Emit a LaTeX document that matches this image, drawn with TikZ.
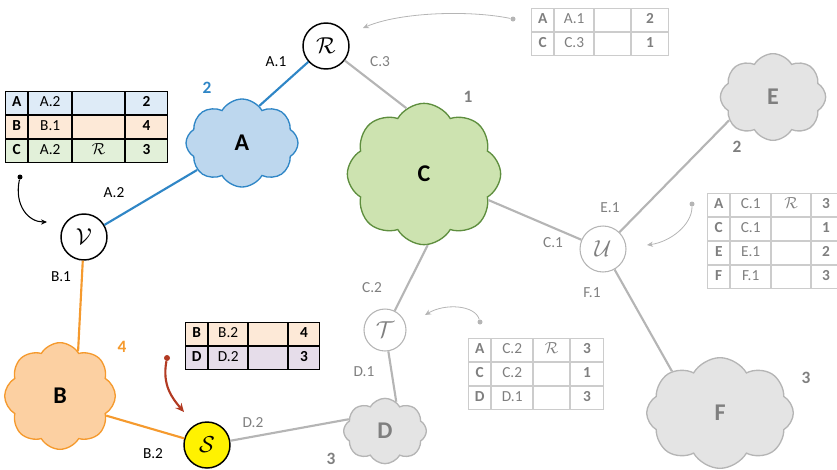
\documentclass[tikz,border=0pt]{standalone}
\usepackage{fontspec}
\setmainfont{Carlito}
\usepackage{tikz}
\usetikzlibrary{shapes.symbols,arrows.meta,matrix}

\definecolor{lineblue}{HTML}{2F86C6}
\definecolor{fillblue}{HTML}{BDD7EE}
\definecolor{lineorange}{HTML}{F59A2E}
\definecolor{fillorange}{HTML}{FCD0A2}
\definecolor{linegreen}{HTML}{5E8E3E}
\definecolor{fillgreen}{HTML}{CDE3B0}
\definecolor{linegray}{HTML}{B5B5B5}
\definecolor{fillgray}{HTML}{E4E4E4}
\definecolor{textgray}{HTML}{7F7F7F}
\definecolor{tabgray}{HTML}{CCCCCC}
\definecolor{rowblue}{HTML}{DEEBF7}
\definecolor{roworange}{HTML}{FDE9D7}
\definecolor{rowgreen}{HTML}{E2F0D9}
\definecolor{rowlilac}{HTML}{E6DDEA}
\definecolor{arrowred}{HTML}{B23A22}

\newcommand{\cellfont}{\fontsize{11.5}{13}\selectfont}
\newcommand{\calR}{{\fontsize{13}{15}\selectfont$\mathcal{R}$}}

\begin{document}
\begin{tikzpicture}[x=0.75pt, y=-0.75pt,
    station/.style={circle, draw, line width=1.1pt, fill=white, minimum size=34.5pt, inner sep=0pt, font=\fontsize{16}{18}\selectfont},
    graystation/.style={station, draw=linegray, line width=0.8pt, text=textgray},
    net/.style={cloud, cloud puffs=8, cloud puff arc=120, cloud ignores aspect, draw, line width=1pt, inner sep=0pt, font=\fontsize{18}{20}\selectfont\bfseries},
    graynet/.style={net, fill=fillgray, draw=linegray, text=textgray},
    hop/.style={font=\fontsize{11.5}{13}\selectfont, inner sep=1pt},
    grayhop/.style={hop, text=textgray},
    weight/.style={font=\fontsize{13}{15}\selectfont\bfseries, inner sep=1pt},
    link/.style={line width=1.6pt},
    tab/.style={matrix of nodes, nodes in empty cells, anchor=north west, inner sep=0pt, column sep=0pt, row sep=0pt,
        nodes={draw, line width=0.7pt, outer sep=0pt, inner sep=0pt, minimum height=17.25pt, text height=8pt, text depth=2.5pt, font=\cellfont},
        column 1/.style={nodes={font=\cellfont\bfseries}},
        column 4/.style={nodes={font=\cellfont\bfseries}}},
    graytab/.style={tab, nodes={draw=tabgray, text=textgray}},
    colw/.style n args={4}{
        column 1/.append style={nodes={minimum width=#1}},
        column 2/.append style={nodes={minimum width=#2}},
        column 3/.append style={nodes={minimum width=#3}},
        column 4/.append style={nodes={minimum width=#4}}},
    dot/.style={circle, fill, inner sep=0pt, minimum size=3.75pt},
    ptr/.style={-{Stealth[length=4.5pt, width=4pt]}, line width=0.8pt},
    grayptr/.style={-{Stealth[length=4.5pt, width=4pt]}, line width=0.6pt, draw=linegray},
]
\useasboundingbox (0,0) rectangle (837,469);

% === NETWORKS ===
\node[net, fill=fillblue, draw=lineblue, minimum width=84pt, minimum height=66pt] (A) at (242,143) {A};
\node[net, fill=fillorange, draw=lineorange, minimum width=83pt, minimum height=80pt] (B) at (60,396) {B};
\node[net, fill=fillgreen, draw=linegreen, minimum width=115pt, minimum height=106pt] (C) at (424,174) {C};
\node[graynet, minimum width=62pt, minimum height=49pt] (D) at (385,431) {D};
\node[graynet, minimum width=79pt, minimum height=65pt] (E) at (773,97) {E};
\node[graynet, minimum width=110pt, minimum height=83pt] (F) at (720,413) {F};

% weights
\node[weight, text=lineblue] (wA) at (207,88) {2};
\node[weight, text=lineorange] (wB) at (122,347) {4};
\node[weight, text=textgray] (wC) at (468,97) {1};
\node[weight, text=textgray] (wD) at (331,459) {3};
\node[weight, text=textgray] (wE) at (737,147) {2};
\node[weight, text=textgray] (wF) at (806,378) {3};

% === ROUTERS ===
\node[station] (R) at (326,46) {$\mathcal{R}$};
\node[station] (V) at (84,237) {$\mathcal{V}$};
\node[station, fill=yellow] (S) at (207,445) {$\mathcal{S}$};
\node[graystation, minimum size=31.5pt] (T) at (385,330) {$\mathcal{T}$};
\node[graystation] (U) at (603,249) {$\mathcal{U}$};

% === LINKS ===
\draw[link, lineblue] (R) -- (A.65);
\draw[link, linegray] (R) -- (C.105);
\draw[link, lineblue] (V) -- (A.211);
\draw[link, lineorange] (V) -- (B.68);
\draw[link, lineorange] (B.337) -- (S);
\draw[link, linegray] (S) -- (D.162);
\draw[link, linegray] (T) -- (C.273);
\draw[link, linegray] (T) -- (D.69);
\draw[link, linegray] (U) -- (C.338);
\draw[link, linegray] (U) -- (E.208);
\draw[link, linegray] (U) -- (F.139);

% interface names
\node[hop] (hA1) at (276,62) {A.1};
\node[grayhop] (hC3) at (380,62) {C.3};
\node[hop] (hA2) at (114,193) {A.2};
\node[hop] (hB1) at (61,277) {B.1};
\node[hop] (hB2) at (153,454) {B.2};
\node[grayhop] (hD2) at (253,423) {D.2};
\node[grayhop] (hC2) at (372,288) {C.2};
\node[grayhop] (hD1) at (364,372) {D.1};
\node[grayhop] (hE1) at (610,208) {E.1};
\node[grayhop] (hC1) at (553,243) {C.1};
\node[grayhop] (hF1) at (592,293) {F.1};

% === TABLES ===
\matrix[tab, colw={16.5pt}{32.25pt}{39pt}{31.5pt},
    row 1/.style={nodes={fill=rowblue}}, row 2/.style={nodes={fill=roworange}}, row 3/.style={nodes={fill=rowgreen}}]
    (tabV) at (5,91) {
    A & A.2 &       & 2 \\
    B & B.1 &       & 4 \\
    C & A.2 & \calR & 3 \\
};
\matrix[tab, colw={16.5pt}{29.25pt}{29.25pt}{23.25pt},
    row 1/.style={nodes={fill=roworange}}, row 2/.style={nodes={fill=rowlilac}}]
    (tabS) at (185,322) {
    B & B.2 & & 4 \\
    D & D.2 & & 3 \\
};
\matrix[graytab, colw={16.5pt}{30.75pt}{27pt}{24.75pt}]
    (tabT) at (468,338) {
    A & C.2 & \calR & 3 \\
    C & C.2 &       & 1 \\
    D & D.1 &       & 3 \\
};
\matrix[graytab, colw={16.5pt}{29.25pt}{27pt}{27.75pt}]
    (tabR) at (531,8) {
    A & A.1 & & 2 \\
    C & C.3 & & 1 \\
};
\matrix[graytab, colw={16.5pt}{30pt}{29.25pt}{21.75pt}]
    (tabU) at (707,193) {
    A & C.1 & \calR & 3 \\
    C & C.1 &       & 1 \\
    E & E.1 &       & 2 \\
    F & F.1 &       & 3 \\
};

% === POINTERS ===
\node[dot] (dotV) at (20,177) {};
\coordinate (tipV) at (47,222);
\draw[ptr] (dotV) .. controls (14,205) and (28,222) .. (tipV);

\node[dot, arrowred, minimum size=4.5pt] (dotS) at (167,358) {};
\coordinate (tipS) at (184,412);
\draw[-{Stealth[length=6.5pt, width=6pt]}, line width=1.6pt, arrowred] (dotS) .. controls (162,385) and (172,398) .. (tipS);

\node[dot, linegray] (dotT) at (480,322) {};
\coordinate (tipT) at (425,315);
\draw[grayptr] (dotT) .. controls (475,305) and (445,303) .. (tipT);

\node[dot, linegray] (dotU) at (692,204) {};
\coordinate (tipU) at (647,245);
\draw[grayptr] (dotU) .. controls (692,225) and (670,242) .. (tipU);

\node[dot, linegray] (dotR) at (513,19) {};
\coordinate (tipR) at (363,28);
\draw[grayptr] (dotR) .. controls (470,10) and (400,12) .. (tipR);

\end{tikzpicture}
\end{document}
